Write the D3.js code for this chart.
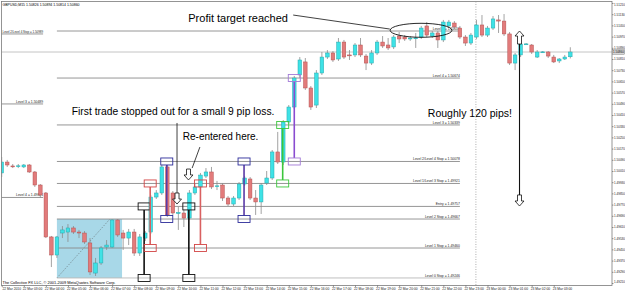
<!DOCTYPE html>
<html><head><meta charset="utf-8">
<script src="https://cdn.jsdelivr.net/npm/d3@7"></script>
<style>body{margin:0;background:#fff}svg{display:block}text{font-family:Arial,"Liberation Sans",sans-serif}</style>
</head><body>
<svg id="c" width="625" height="291"></svg>
<script>
// ---------- DATA (GBPUSD M15) ----------
const opens = [1.49996,1.50074,1.50046,1.50046,1.50039,1.50053,1.50003,1.49910,1.49853,1.49539,
1.49410,1.49567,1.49574,1.49603,1.49574,1.49567,1.49496,1.49281,1.49353,1.49467,
1.49467,1.49660,1.49567,1.49531,1.49574,1.49424,1.49531,1.49574,1.49824,1.49853,
1.50039,1.49853,1.49706,1.49710,1.49674,1.49853,1.49896,1.49974,1.50003,1.49903,
1.49910,1.49817,1.49774,1.49817,1.49917,1.49953,1.49817,1.49789,1.49924,1.49960,
1.50146,1.50074,1.50360,1.50467,1.50696,1.50789,1.50603,1.50481,1.50710,1.50824,
1.50853,1.50810,1.50931,1.50839,1.50839,1.50910,1.50831,1.50781,1.50853,1.50931,
1.50910,1.50896,1.50974,1.50967,1.50953,1.50960,1.50967,1.51046,1.50974,1.50996,
1.50946,1.51046,1.51067,1.51031,1.50967,1.50924,1.50967,1.51053,1.50981,1.51031,
1.51089,1.51081,1.50989,1.50781,1.50839,1.50917,1.50910,1.50824,1.50860,1.50860,
1.50824,1.50796,1.50810,1.50826];
const highs = [1.50110,1.50089,1.50060,1.50060,1.50060,1.50060,1.50010,1.49917,1.49860,1.49546,
1.49546,1.49617,1.49631,1.49617,1.49589,1.49581,1.49531,1.49389,1.49474,1.49517,
1.49667,1.49667,1.49589,1.49596,1.49596,1.49560,1.49581,1.49839,1.49874,1.50053,
1.50053,1.49867,1.49753,1.49731,1.49874,1.49924,1.49996,1.50031,1.50039,1.49939,
1.49924,1.49831,1.49831,1.49931,1.49974,1.49967,1.49874,1.49924,1.50010,1.50160,
1.50289,1.50374,1.50481,1.50689,1.50824,1.50817,1.50617,1.50731,1.50860,1.50874,
1.50867,1.50960,1.50946,1.50874,1.50924,1.50960,1.50846,1.50874,1.50946,1.50974,
1.50960,1.50981,1.51003,1.50981,1.50974,1.50996,1.51046,1.51074,1.51010,1.51010,
1.51089,1.51089,1.51081,1.51046,1.50981,1.50996,1.51089,1.51124,1.51046,1.51117,
1.51124,1.51131,1.51003,1.50853,1.50931,1.50924,1.50917,1.50874,1.50867,1.50867,
1.50839,1.50817,1.50839,1.50894];
const lows = [1.49967,1.50039,1.50031,1.50031,1.50031,1.49996,1.49896,1.49824,1.49531,1.49324,
1.49389,1.49531,1.49503,1.49560,1.49531,1.49489,1.49267,1.49260,1.49339,1.49446,
1.49460,1.49539,1.49446,1.49481,1.49403,1.49403,1.49510,1.49560,1.49810,1.49839,
1.49681,1.49696,1.49589,1.49610,1.49660,1.49839,1.49881,1.49960,1.49881,1.49874,
1.49796,1.49760,1.49760,1.49803,1.49903,1.49803,1.49696,1.49703,1.49910,1.49946,
1.50060,1.50053,1.50346,1.50453,1.50674,1.50589,1.50446,1.50460,1.50696,1.50810,
1.50789,1.50796,1.50810,1.50803,1.50824,1.50824,1.50731,1.50767,1.50839,1.50889,
1.50874,1.50881,1.50924,1.50939,1.50939,1.50889,1.50953,1.50967,1.50960,1.50889,
1.50931,1.51031,1.51024,1.50953,1.50903,1.50910,1.50953,1.50967,1.50967,1.51017,
1.50996,1.50974,1.50767,1.50731,1.50824,1.50910,1.50846,1.50817,1.50853,1.50817,
1.50781,1.50781,1.50803,1.50814];
const closes = [1.50074,1.50053,1.50045,1.50047,1.50053,1.50003,1.49910,1.49839,1.49539,1.49410,
1.49539,1.49589,1.49603,1.49574,1.49567,1.49503,1.49289,1.49353,1.49460,1.49481,
1.49660,1.49553,1.49531,1.49574,1.49424,1.49539,1.49567,1.49824,1.49853,1.50039,
1.49696,1.49710,1.49714,1.49674,1.49853,1.49896,1.49981,1.50003,1.49896,1.49904,
1.49817,1.49774,1.49817,1.49917,1.49960,1.49817,1.49789,1.49910,1.49960,1.50146,
1.50074,1.50360,1.50467,1.50674,1.50803,1.50603,1.50467,1.50710,1.50824,1.50853,
1.50803,1.50931,1.50824,1.50838,1.50910,1.50839,1.50781,1.50853,1.50931,1.50903,
1.50889,1.50967,1.50953,1.50953,1.50960,1.50961,1.51031,1.50981,1.50996,1.50946,
1.51074,1.51074,1.51039,1.50967,1.50924,1.50981,1.51053,1.50981,1.51031,1.51096,
1.51081,1.50989,1.50781,1.50839,1.50917,1.50918,1.50860,1.50860,1.50861,1.50831,
1.50789,1.50810,1.50824,1.50860];

const yTickLabels = ["1.49210","1.49290","1.49370","1.49450","1.49530","1.49610","1.49690","1.49770","1.49850",
"1.49930","1.50010","1.50090","1.50170","1.50250","1.50330","1.50410","1.50490","1.50570","1.50650","1.50730",
"1.50810","1.50890","1.50970","1.51050","1.51130","1.51210"];
const xTickCandles = [0,4,8,12,16,20,24,28,32,36,40,44,48,52,56,60,64,68,72,76,80,84,88,92,96,100];
const xTickLabels = ["22 Mar 2010","22 Mar 03:00","22 Mar 04:00","22 Mar 05:00","22 Mar 06:00","22 Mar 07:00",
"22 Mar 08:00","22 Mar 09:00","22 Mar 10:00","22 Mar 11:00","22 Mar 12:00","22 Mar 13:00","22 Mar 14:00",
"22 Mar 15:00","22 Mar 16:00","22 Mar 17:00","22 Mar 18:00","22 Mar 19:00","22 Mar 20:00","22 Mar 21:00",
"22 Mar 22:00","22 Mar 23:00","23 Mar 00:00","23 Mar 01:00","23 Mar 02:00","23 Mar 03:00"];

const levelNames = ["Level 5 = 1.51010","Level 4 = 1.50674","Level 3 = 1.50339","Level 2/Level 4 Stop = 1.50078",
"Level 1/Level 3 Stop = 1.49921","Entry = 1.49757","Level 2 Stop = 1.49667","Level 1 Stop = 1.49460","Level 0 Stop = 1.49246"];
const levelPrices = [1.51010,1.50674,1.50339,1.50078,1.49921,1.49757,1.49667,1.49460,1.49246];
const oldLevelNames = ["Level 2/Level 4 Stop = 1.50989","Level 3 = 1.50489","Level 4 = 1.49821"];
const oldLevelPrices = [1.50989,1.50489,1.49821];

// trades: candle index, entry price, stop price, colour key
const tradeCandle = [25.8,26.9,29.9,33.9,36.0,43.9,50.9,53.0];
const tradeEntry  = [1.49757,1.49921,1.50078,1.49757,1.49921,1.50078,1.50339,1.50674];
const tradeStop   = [1.49246,1.49460,1.49667,1.49246,1.49460,1.49667,1.49921,1.50078];
const tradeKind   = ["black","red","navy","black","red","navy","green","purple"];

const titleText = "GBPUSD,M15  1.50826 1.50894 1.50814 1.50860";
const footerText = "The Collective FX LLC, \u00a9 2001-2009 MetaQuotes Software Corp.";
const currentPrice = 1.50860;

// ---------- CHART ----------
const svg = d3.select("#c");
const P = {l:1.5, t:1.5, r:612, b:285.5};
const x = d3.scaleLinear().domain([0,103]).range([1.7,570.3]);
const y = d3.scaleLinear().domain([1.4921,1.5121]).range([283,3]);

svg.append("defs").append("clipPath").attr("id","clip").append("rect")
  .attr("x",P.l).attr("y",P.t).attr("width",P.r-P.l).attr("height",P.b-P.t);
const g = svg.append("g").attr("clip-path","url(#clip)");

// fibonacci box
const fib = {i0:10, i1:21.8, iD:19.6, p0:1.49246, p1:1.49667};
g.append("rect").attr("x",x(fib.i0)).attr("width",x(fib.i1)-x(fib.i0))
  .attr("y",y(fib.p1)).attr("height",y(fib.p0)-y(fib.p1)).attr("fill","#a8d8e8");
g.append("line").attr("x1",x(fib.i0)).attr("y1",y(fib.p0)).attr("x2",x(fib.iD)).attr("y2",y(fib.p1))
  .attr("stroke","#555").attr("stroke-width",0.6).attr("stroke-dasharray","1,1.5");

// current price line
g.append("line").attr("x1",P.l).attr("x2",P.r).attr("y1",y(currentPrice)).attr("y2",y(currentPrice))
  .attr("stroke","#c4c4c4").attr("stroke-width",1);

// level lines
const lvStart = 10, lvEnd = 83;
levelPrices.forEach((p,k)=>{
  g.append("line").attr("x1",x(lvStart)).attr("x2",x(lvEnd)).attr("y1",y(p)).attr("y2",y(p))
    .attr("stroke", k===8 ? "#b8b8b8" : "#8a8a8a").attr("stroke-width",0.9);
  g.append("text").attr("x",x(lvEnd)).attr("y",y(p)-1).attr("text-anchor","end")
    .attr("font-size",3.4).attr("fill","#222").text(levelNames[k]);
});
const oldEnd = 7.5;
oldLevelPrices.forEach((p,k)=>{
  g.append("line").attr("x1",P.l).attr("x2",x(oldEnd)).attr("y1",y(p)).attr("y2",y(p))
    .attr("stroke","#8a8a8a").attr("stroke-width",0.9);
  const t = g.append("text").attr("x",x(oldEnd)).attr("y",y(p)-1).attr("text-anchor","end")
    .attr("font-size",3.4).attr("fill","#222").text(oldLevelNames[k]);
  const w = t.node().getComputedTextLength();
  const avail = x(oldEnd) - 2.5;
  if (w > avail) t.attr("textLength",avail).attr("lengthAdjust","spacingAndGlyphs");
});

// vertical dotted separator
g.append("line").attr("x1",x(85.9)).attr("x2",x(85.9)).attr("y1",P.t).attr("y2",P.b)
  .attr("stroke","#999").attr("stroke-width",0.8).attr("stroke-dasharray","1,1.5");

// candles
const idx = d3.range(opens.length);
const bw = 3.6;
g.append("g").selectAll("line").data(idx).join("line")
  .attr("x1",i=>x(i)).attr("x2",i=>x(i)).attr("y1",i=>y(highs[i])).attr("y2",i=>y(lows[i]))
  .attr("stroke","#8c8c8c").attr("stroke-width",0.8);
g.append("g").selectAll("rect").data(idx).join("rect")
  .attr("x",i=>x(i)-bw/2).attr("width",bw)
  .attr("y",i=>y(Math.max(opens[i],closes[i])))
  .attr("height",i=>Math.max(0.9, Math.abs(y(opens[i])-y(closes[i]))))
  .attr("fill",i=>closes[i]>=opens[i] ? "#3ee2e6" : "#e27b7b")
  .attr("stroke",i=>closes[i]>=opens[i] ? "#26a9ad" : "#b55252")
  .attr("stroke-width",0.5);

// trade markers
const tcol = {black:["#111","#111"], red:["#d24545","#d96060"], navy:["#2e2e9a","#5a3aa6"],
              green:["#3cc63c","#3cc63c"], purple:["#a27ad6","#8a4cd0"]};
const boxW = 12, boxH = 7;
tradeCandle.forEach((ci,k)=>{
  const c = tcol[tradeKind[k]], cx = x(ci), ye = y(tradeEntry[k]), ys = y(tradeStop[k]);
  g.append("line").attr("x1",cx).attr("x2",cx).attr("y1",ye+boxH/2).attr("y2",ys-boxH/2)
    .attr("stroke",c[1]).attr("stroke-width",1.6);
  [ye,ys].forEach(yy=>{
    g.append("rect").attr("x",cx-boxW/2).attr("y",yy-boxH/2).attr("width",boxW).attr("height",boxH)
      .attr("fill","none").attr("stroke",c[0]).attr("stroke-width",0.9);
  });
});

// annotations
function blockArrow(cx, yTop, yBot, dir){
  const hw=2, hh=4.5, head=5;
  let pts;
  if(dir==="down") pts=[[cx-hw,yTop],[cx+hw,yTop],[cx+hw,yBot-head],[cx+hh,yBot-head],[cx,yBot],[cx-hh,yBot-head],[cx-hw,yBot-head]];
  else pts=[[cx-hw,yBot],[cx+hw,yBot],[cx+hw,yTop+head],[cx+hh,yTop+head],[cx,yTop],[cx-hh,yTop+head],[cx-hw,yTop+head]];
  g.append("path").attr("d","M"+pts.map(p=>p.join(",")).join("L")+"Z")
    .attr("fill","#fff").attr("stroke","#111").attr("stroke-width",0.8);
}
function seg(i1,p1,i2,p2,w){
  g.append("line").attr("x1",x(i1)).attr("y1",y(p1)).attr("x2",x(i2)).attr("y2",y(p2))
    .attr("stroke","#111").attr("stroke-width",w||0.8);
}
seg(31.76,1.50353,31.76,1.49853);
blockArrow(x(31.76), y(1.49853), y(1.49774), "down");
seg(35.9,1.50181,34.5,1.50031);
blockArrow(x(33.84), y(1.50024), y(1.49946), "down");
seg(52.8,1.51124,70.3,1.51024);
g.append("ellipse").attr("cx",x(75.96)).attr("cy",y(1.51015))
  .attr("rx",x(75.96+5.6)-x(75.96)).attr("ry",y(1.51015-0.0005)-y(1.51015))
  .attr("fill","none").attr("stroke","#111").attr("stroke-width",0.9);
seg(93.8,1.50917,93.8,1.49839,1.1);
blockArrow(x(93.8), y(1.51010), y(1.50917), "up");
blockArrow(x(93.8), y(1.49839), y(1.49760), "down");

const notes = [
  {t:"Profit target reached", i:33.8, p:1.51074, fs:11},
  {t:"First trade stopped out for a small 9 pip loss.", i:12.7, p:1.50410, fs:10.3},
  {t:"Re-entered here.", i:32.8, p:1.50231, fs:10},
  {t:"Roughly 120 pips!", i:77.2, p:1.50396, fs:10.5}
];
notes.forEach(n=>g.append("text").attr("x",x(n.i)).attr("y",y(n.p)).attr("font-size",n.fs)
  .attr("fill","#000").text(n.t));

// title & footer
svg.append("text").attr("x",2.5).attr("y",5.6).attr("font-size",3.5).attr("fill","#000").text(titleText);
svg.append("text").attr("x",2.5).attr("y",284.2).attr("font-size",3.9).attr("fill","#000").text(footerText);

// frame
svg.append("rect").attr("x",P.l).attr("y",P.t).attr("width",P.r-P.l).attr("height",P.b-P.t)
  .attr("fill","none").attr("stroke","#7a7a7a").attr("stroke-width",0.8);

// axes
const yAx = svg.append("g").attr("transform",`translate(${P.r},0)`)
  .call(d3.axisRight(y).tickValues(yTickLabels.map(Number)).tickFormat((d,i)=>yTickLabels[i]).tickSize(1.5).tickPadding(0.6));
yAx.select(".domain").remove();
yAx.selectAll("text").attr("font-size",3.0).attr("fill","#222");
yAx.selectAll("line").attr("stroke","#555").attr("stroke-width",0.6);
// keep the extreme labels inside the picture
yAx.selectAll(".tick text").attr("dy",(d,i,n)=> i===0 ? "-0.05em" : (i===n.length-1 ? "0.75em" : "0.32em"));

const xAx = svg.append("g").attr("transform",`translate(0,${P.b})`)
  .call(d3.axisBottom(x).tickValues(xTickCandles).tickFormat((d,i)=>xTickLabels[i]).tickSize(1.6).tickPadding(0.8));
xAx.select(".domain").remove();
xAx.selectAll("text").attr("font-size",3.3).attr("fill","#222").attr("text-anchor","start")
  .attr("dx",(d,i)=> i===0 ? 0.3 : -1.5);
xAx.selectAll("line").attr("stroke","#555").attr("stroke-width",0.6);

// current price label on axis
const cpY = y(currentPrice);
svg.append("rect").attr("x",P.r+0.4).attr("y",cpY-2.3).attr("width",12.2).attr("height",4.6)
  .attr("fill","#d6d6d6").attr("stroke","#666").attr("stroke-width",0.4);
svg.append("text").attr("x",P.r+1.0).attr("y",cpY+1.1).attr("font-size",3.0).attr("fill","#000").text(currentPrice.toFixed(5));
</script>
</body></html>
